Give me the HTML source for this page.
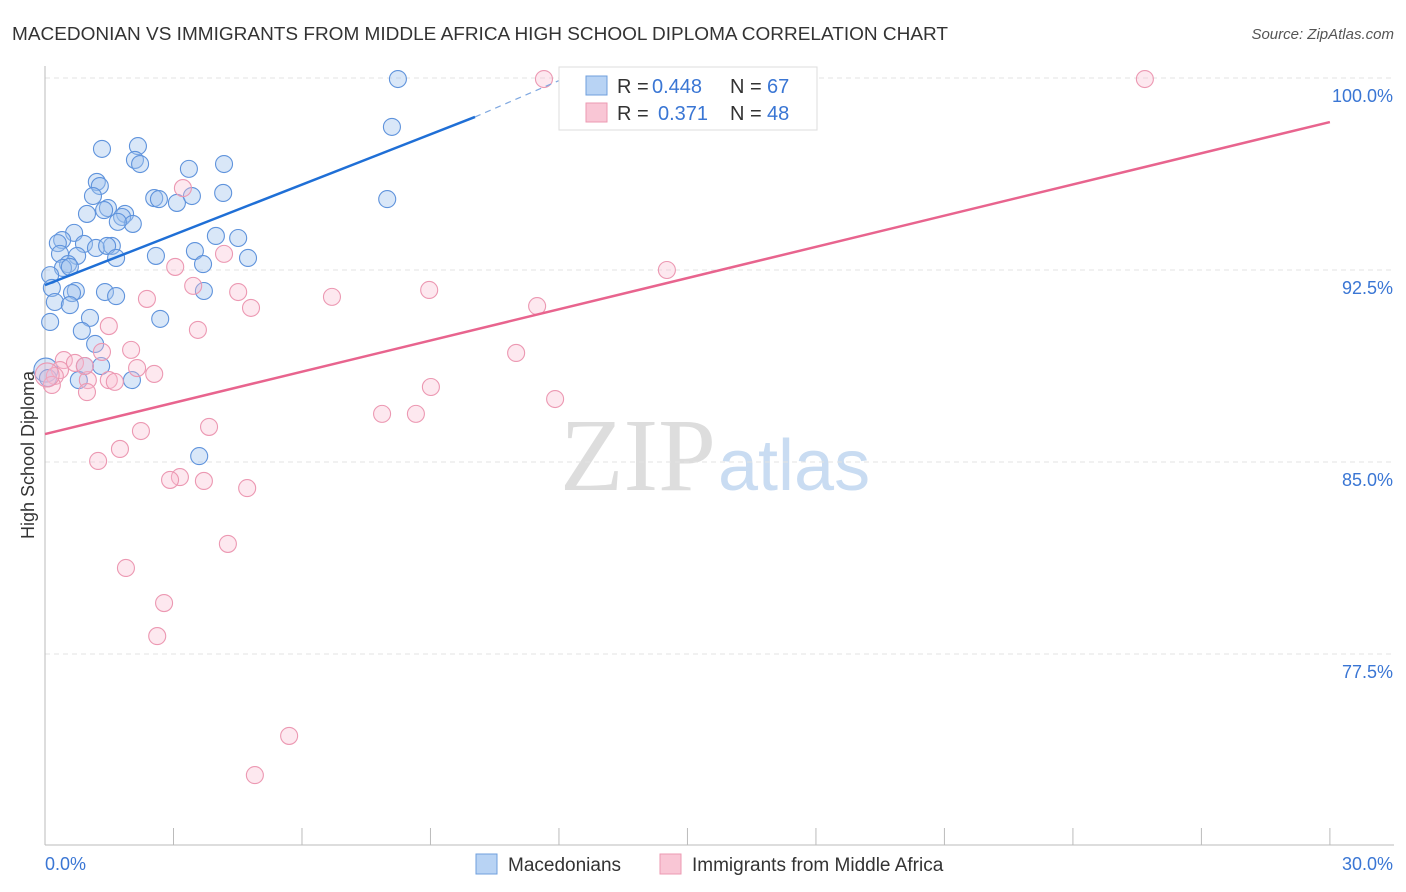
<!DOCTYPE html>
<html><head><meta charset="utf-8"><style>
body{margin:0;background:#fff;font-family:"Liberation Sans",sans-serif}
svg{display:block}
</style></head><body>
<svg id="c" width="1406" height="892">
<text x="12" y="40" font-size="18" fill="#333" textLength="936" lengthAdjust="spacingAndGlyphs">MACEDONIAN VS IMMIGRANTS FROM MIDDLE AFRICA HIGH SCHOOL DIPLOMA CORRELATION CHART</text>
<text x="1394" y="39" font-size="15" fill="#555" text-anchor="end" font-style="italic">Source: ZipAtlas.com</text>
<text x="716" y="490" font-size="104" fill="#ddd" text-anchor="end" font-family="Liberation Serif">ZIP</text>
<text x="718" y="490" font-size="72" fill="#c9dcf2">atlas</text>
<text x="34" y="455" font-size="18" fill="#333" text-anchor="middle" transform="rotate(-90 34 455)">High School Diploma</text>
<g id="grid"></g><g id="pts"></g><g id="lines"></g>
<g>
<rect x="559" y="67" width="258" height="63" fill="#fff" stroke="#ddd"/>
<rect x="586" y="76" width="21" height="19" fill="#b8d3f4" stroke="#6f9fdc"/>
<rect x="586" y="103" width="21" height="19" fill="#f9c6d5" stroke="#ec9ab2"/>
<text x="617" y="93" font-size="20" fill="#333">R =</text>
<text x="652" y="93" font-size="20" fill="#3a76d4">0.448</text>
<text x="730" y="93" font-size="20" fill="#333">N =</text>
<text x="767" y="93" font-size="20" fill="#3a76d4">67</text>
<text x="617" y="120" font-size="20" fill="#333">R =</text>
<text x="658" y="120" font-size="20" fill="#3a76d4">0.371</text>
<text x="730" y="120" font-size="20" fill="#333">N =</text>
<text x="767" y="120" font-size="20" fill="#3a76d4">48</text>
</g>
<g>
<rect x="476" y="854" width="21" height="20" fill="#b8d3f4" stroke="#6f9fdc"/>
<text x="508" y="871" font-size="19" fill="#333">Macedonians</text>
<rect x="660" y="854" width="21" height="20" fill="#f9c6d5" stroke="#ec9ab2"/>
<text x="692" y="871" font-size="19" fill="#333">Immigrants from Middle Africa</text>
</g>
</svg>
<script>
const xTicks=[0,3,6,9,12,15,18,21,24,27,30];
const yTicks=[100,92.5,85,77.5];
const yTickLabels=["100.0%","92.5%","85.0%","77.5%"];
const blueX=[8.24,8.10,1.33,2.17,2.10,2.22,3.36,4.18,1.21,1.28,4.16,1.12,2.55,2.66,3.08,3.43,7.99,1.47,1.38,0.98,1.87,1.80,2.05,1.70,3.99,4.51,0.68,0.40,0.30,0.91,1.19,1.56,1.45,2.59,3.50,3.69,4.74,0.35,0.75,1.66,0.54,0.42,0.58,0.12,0.16,1.40,0.72,0.63,1.66,0.23,0.58,3.71,2.69,0.12,1.05,0.86,1.17,1.31,0.93,0.79,2.03,0.02,3.60,0.07];
const blueY=[99.96,98.09,97.23,97.34,96.80,96.64,96.45,96.64,95.94,95.78,95.51,95.39,95.31,95.27,95.12,95.39,95.27,94.92,94.84,94.69,94.69,94.57,94.30,94.38,93.83,93.75,93.95,93.67,93.55,93.52,93.36,93.44,93.44,93.05,93.24,92.73,92.97,93.13,93.05,92.97,92.73,92.58,92.62,92.30,91.80,91.64,91.68,91.60,91.48,91.25,91.13,91.68,90.59,90.47,90.63,90.12,89.61,88.75,88.75,88.20,88.20,88.59,85.23,88.28];
const pinkX=[11.65,25.68,3.22,4.18,3.04,14.52,3.46,4.51,2.38,6.70,8.97,4.81,11.49,3.57,1.49,2.01,1.33,0.44,0.70,11.00,2.15,2.55,1.49,1.63,1.00,9.01,0.35,0.23,0.16,0.98,11.91,7.87,8.66,3.83,2.24,1.75,1.24,3.15,2.92,3.71,4.72,4.27,1.89,2.78,2.62,5.70,4.90,0.05,0.93];
const pinkY=[99.96,99.96,95.70,93.13,92.62,92.50,91.88,91.64,91.37,91.45,91.72,91.02,91.09,90.16,90.31,89.38,89.30,88.98,88.87,89.26,88.67,88.44,88.20,88.13,88.20,87.93,88.59,88.36,88.01,87.73,87.46,86.88,86.88,86.37,86.21,85.51,85.04,84.41,84.30,84.26,83.98,81.80,80.86,79.49,78.20,74.30,72.77,88.40,88.75];
const blueFit=[[0,91.91],[10.04,98.48],[12.03,99.92]];
const pinkFit=[[0,86.09],[30,98.28]];
const NS="http://www.w3.org/2000/svg";
const X=v=>45+v*42.83, Y=v=>78+(100-v)*25.6;
function mk(t,a,p){const e=document.createElementNS(NS,t);for(const k in a)e.setAttribute(k,a[k]);p.appendChild(e);return e;}
const g=document.getElementById('grid'),P=document.getElementById('pts'),L=document.getElementById('lines');
yTicks.forEach((v,i)=>{
 const l=mk('line',{x1:45,x2:1394,y1:Y(v),y2:Y(v),stroke:'#e3e3e3','stroke-dasharray':'5,4'},g);
 
 const t=mk('text',{x:1393,y:Y(v)+24,'font-size':18,fill:'#3a76d4','text-anchor':'end'},g);t.textContent=yTickLabels[i];
 
});
const ax=mk('line',{x1:45,x2:1394,y1:845,y2:845,stroke:'#bbb'},g);
const ay=mk('line',{x1:45,x2:45,y1:66,y2:845,stroke:'#bbb'},g);
xTicks.forEach(v=>{const l=mk('line',{x1:X(v),x2:X(v),y1:828,y2:845,stroke:'#bbb'},g);});
const t0=mk('text',{x:45,y:870,'font-size':18,fill:'#3a76d4'},g);t0.textContent='0.0%';
const t1=mk('text',{x:1393,y:870,'font-size':18,fill:'#3a76d4','text-anchor':'end'},g);t1.textContent='30.0%';
blueX.forEach((v,i)=>{const c=mk('circle',{cx:X(v),cy:Y(blueY[i]),r:i==61?12:8.5,fill:'rgba(160,195,238,0.4)',stroke:'#5f93dc','stroke-width':1.1},P);
 });
pinkX.forEach((v,i)=>{const c=mk('circle',{cx:X(v),cy:Y(pinkY[i]),r:i==47?12:8.5,fill:'rgba(248,190,208,0.35)',stroke:'#ec98b2','stroke-width':1.1},P);
 });
const b1=mk('line',{x1:X(blueFit[0][0]),y1:Y(blueFit[0][1]),x2:X(blueFit[1][0]),y2:Y(blueFit[1][1]),stroke:'#1f6fd6','stroke-width':2.5},L);

const b2=mk('line',{x1:X(blueFit[1][0]),y1:Y(blueFit[1][1]),x2:X(blueFit[2][0]),y2:Y(blueFit[2][1]),stroke:'#7fa8e0','stroke-width':1.2,'stroke-dasharray':'6,5'},L);

const p1=mk('line',{x1:X(pinkFit[0][0]),y1:Y(pinkFit[0][1]),x2:X(pinkFit[1][0]),y2:Y(pinkFit[1][1]),stroke:'#e8648e','stroke-width':2.5},L);

</script>
</body></html>
